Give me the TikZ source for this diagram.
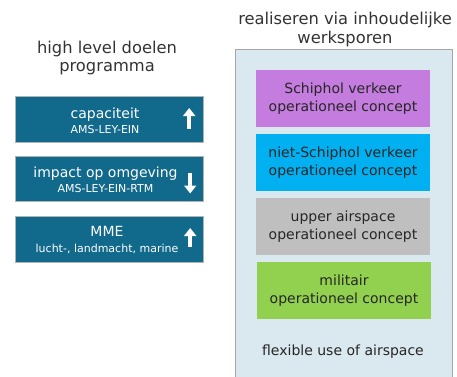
\documentclass[tikz,border=0pt]{standalone}
\usepackage{fontspec}
\setmainfont{DejaVu Sans}
\usetikzlibrary{positioning,arrows.meta}
\definecolor{doelblauw}{RGB}{17,105,140}
\definecolor{vlak}{RGB}{218,232,239}
\definecolor{schiphol}{RGB}{197,124,223}
\definecolor{nietschiphol}{RGB}{0,176,240}
\definecolor{upper}{RGB}{191,191,191}
\definecolor{militair}{RGB}{146,208,80}
\newcommand{\subtxt}{\fontsize{11}{13}\selectfont}
\begin{document}
\begin{tikzpicture}[x=1pt,y=-1pt,
	goal/.style={draw=gray!60,fill=doelblauw,minimum width=188pt,minimum height=46pt,inner sep=0pt},
	goaltxt/.style={text=white,align=center,font=\fontsize{14}{15.5}\selectfont,inner sep=0pt},
	spoor/.style={minimum width=174pt,minimum height=57pt,inner sep=0pt,align=center,font=\fontsize{14}{18}\selectfont,text=black!85},
	pijl/.style={white,line width=4.5pt,-{Triangle[width=12pt,length=8pt]}},
	kop/.style={align=center,font=\fontsize{16.3}{18.5}\selectfont,text=black!80}]
	\useasboundingbox (0,0) rectangle (457,376);

	% linker kolom
	\node[kop] (doelen) at (107,58) {high level doelen\\programma};

	\node[goal] (cap) at (109,119) {};
	\node[goaltxt] (captxt) at (105,121) {capaciteit\\{\subtxt AMS-LEY-EIN}};
	\draw[pijl] ([xshift=-14pt,yshift=-10pt]cap.east) -- ([xshift=-14pt,yshift=11pt]cap.east);

	\node[goal,minimum height=45pt] (imp) at (109,178.5) {};
	\node[goaltxt] (imptxt) at (105.5,180) {impact op omgeving\\{\subtxt AMS-LEY-EIN-RTM}};
	\draw[pijl] ([xshift=-13pt,yshift=6pt]imp.east) -- ([xshift=-13pt,yshift=-15pt]imp.east);

	\node[goal] (mme) at (109,239) {};
	\node[goaltxt] (mmetxt) at (107,240) {MME\\{\subtxt lucht-, landmacht, marine}};
	\draw[pijl] ([xshift=-13pt,yshift=-8pt]mme.east) -- ([xshift=-13pt,yshift=11pt]mme.east);

	% rechter kolom
	\node[kop] (werk) at (345,29.5) {realiseren via inhoudelijke\\werksporen};
	\node[draw=gray!70,fill=vlak,minimum width=217pt,minimum height=330pt,inner sep=0pt] (fua) at (343.5,214) {};

	\node[spoor,fill=schiphol] (svk) at (343,98.5) {Schiphol verkeer\\operationeel concept};
	\node[spoor,fill=nietschiphol] (nsvk) at (343,162.5) {niet-Schiphol verkeer\\operationeel concept};
	\node[spoor,fill=upper] (uas) at (343,226.5) {upper airspace\\operationeel concept};
	\node[spoor,fill=militair] (mil) at (344,290.5) {militair\\operationeel concept};

	\node[font=\fontsize{14}{16}\selectfont,text=black!85] (flex) at (343,352) {flexible use of airspace};
\end{tikzpicture}
\end{document}
